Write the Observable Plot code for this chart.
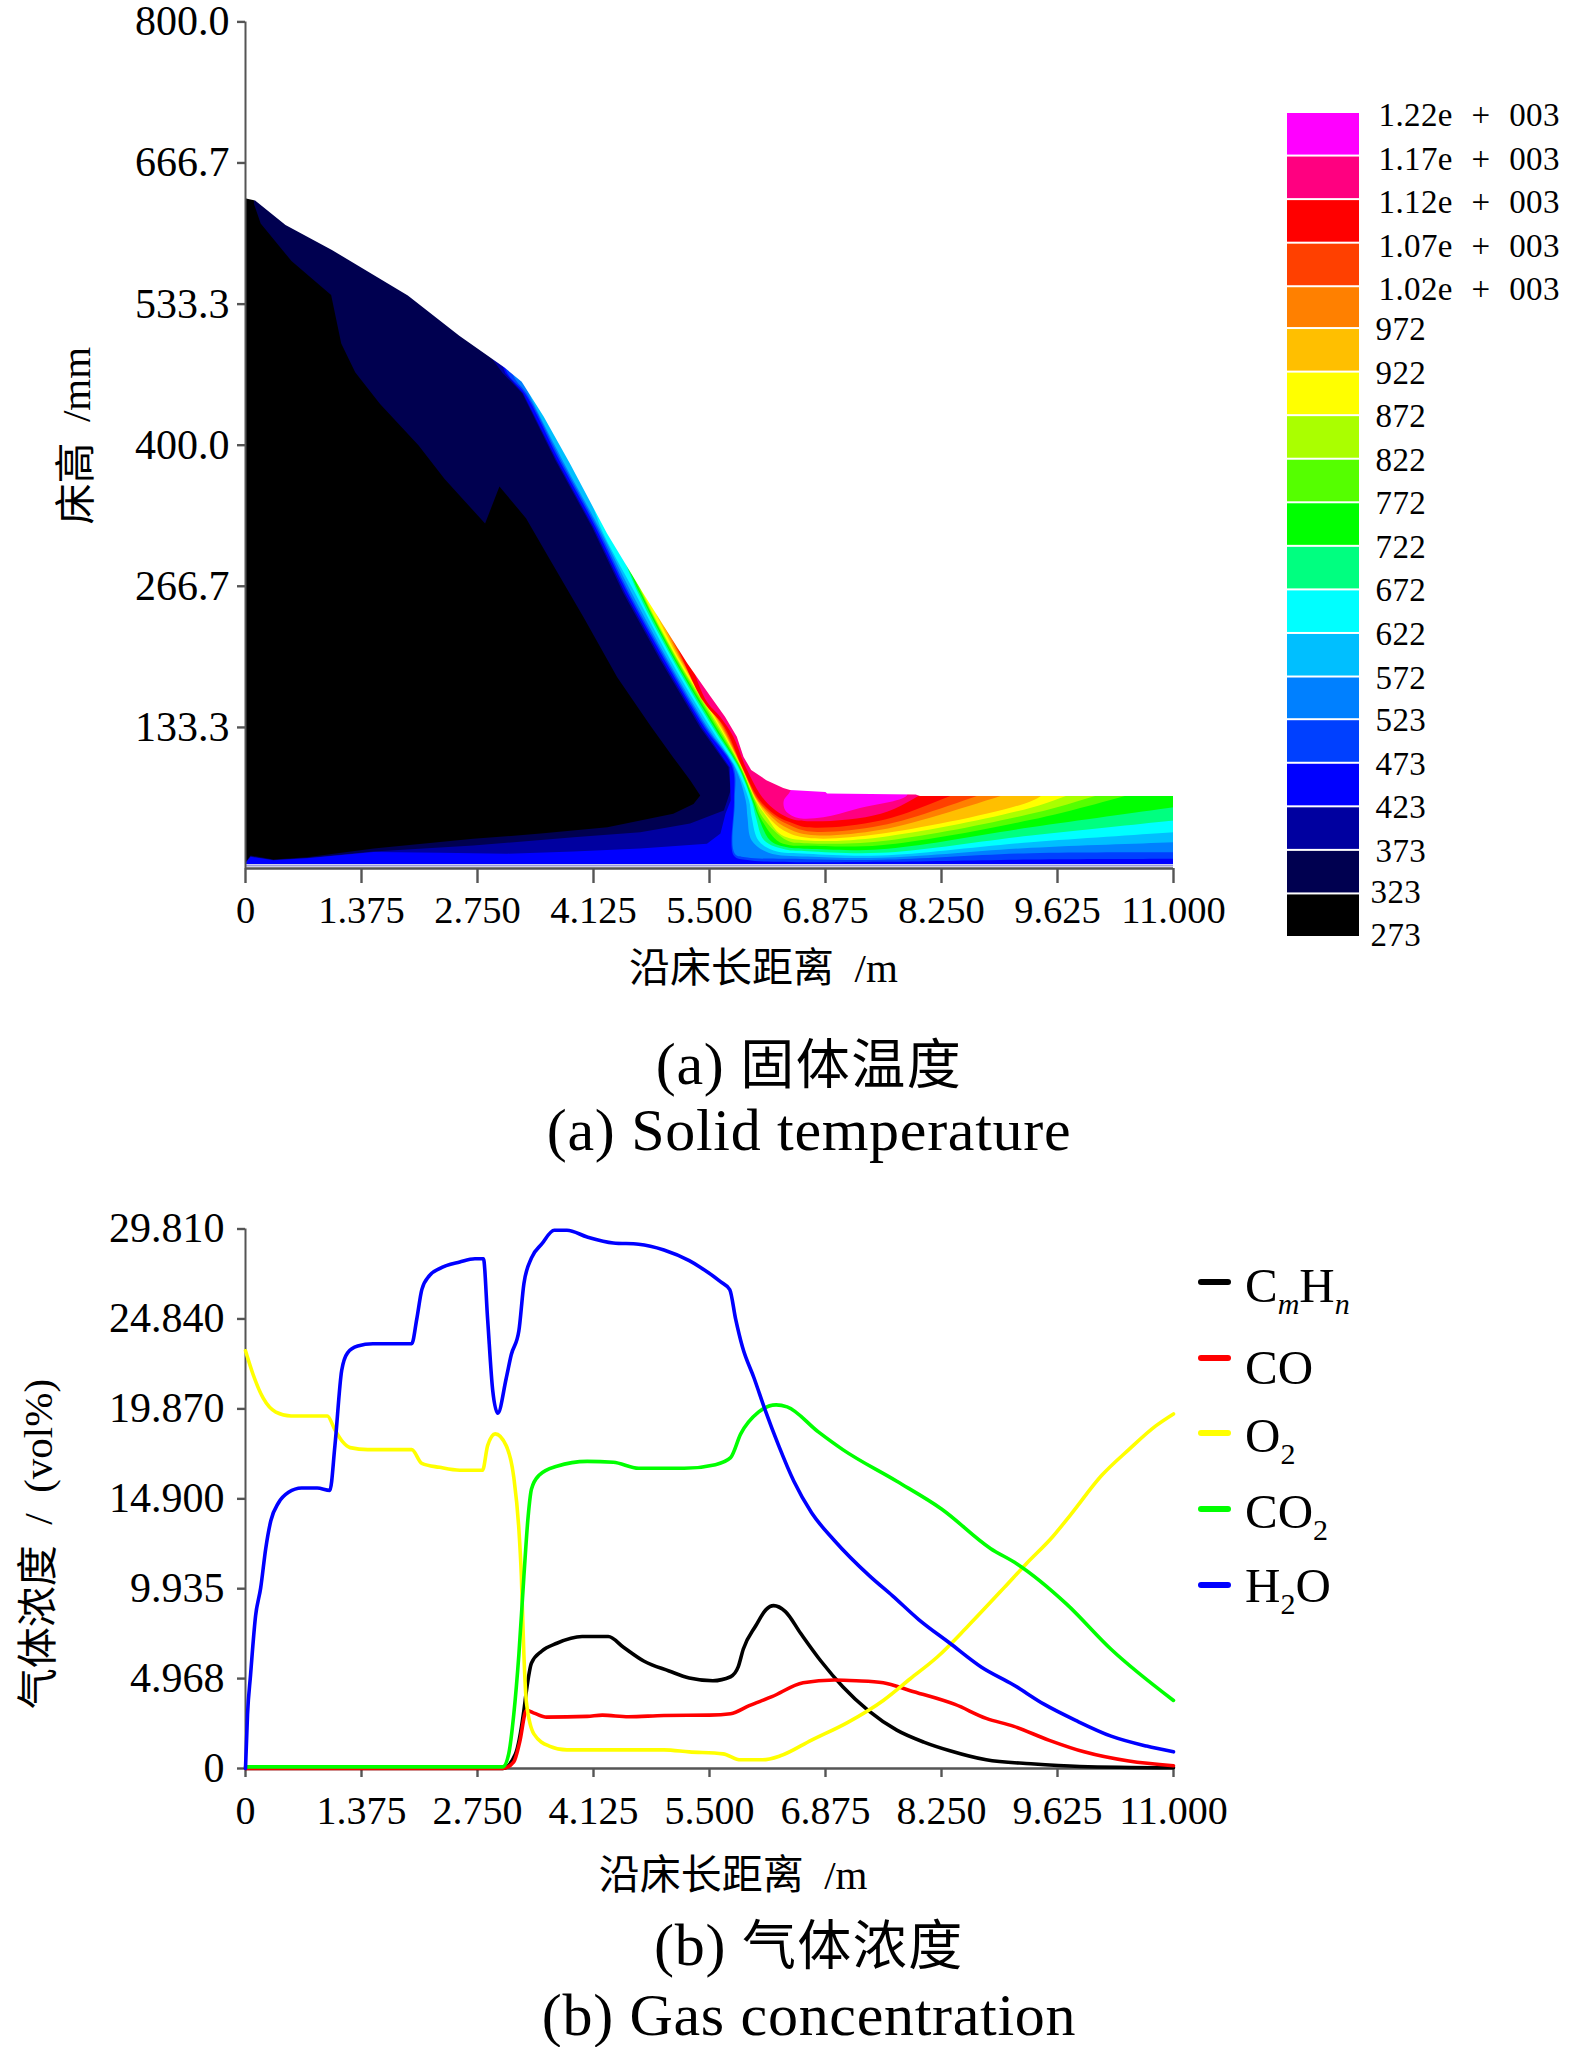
<!DOCTYPE html>
<html><head><meta charset="utf-8">
<script src="https://cdn.jsdelivr.net/npm/d3@7"></script>
<script src="https://cdn.jsdelivr.net/npm/@observablehq/plot@0.6"></script>
<style>
html,body{margin:0;padding:0;background:#fff;overflow:hidden}
body{position:relative;width:1575px;height:2047px;font-family:"Liberation Serif","Noto Sans CJK SC",serif;color:#000}
#top,#bar,#bottom{position:absolute}
#top{left:0;top:0}#bar{left:1260px;top:90px}#bottom{left:0;top:1190px}
.cap{position:absolute;left:0;width:1618px;text-align:center;font-size:60px;line-height:70px;white-space:pre;letter-spacing:.7px}
.cap b{font-weight:400;font-size:54px;letter-spacing:1.5px;font-family:"Noto Sans CJK SC"}
.lg{position:absolute;left:1198px;font-size:49px;line-height:60px;height:60px;white-space:nowrap}
.lg i.sw{position:absolute;left:0;top:27px;width:33px;height:6px;border-radius:3px}
.lg span{position:absolute;left:47px}
.lg sub{font-size:30px;line-height:0;vertical-align:-12px}
</style></head><body>
<div id="top"></div><div id="bar"></div><div id="bottom"></div>
<script>
const font='"Liberation Serif","Noto Sans CJK SC",serif';
// axes
const xTicks=[0,1.375,2.75,4.125,5.5,6.875,8.25,9.625,11];
const xTickLabels=["0","1.375","2.750","4.125","5.500","6.875","8.250","9.625","11.000"];
const heightTicks=[133.3,266.7,400,533.3,666.7,800];
const heightTickLabels=["133.3","266.7","400.0","533.3","666.7","800.0"];
const gasTicks=[0,4.968,9.935,14.9,19.87,24.84,29.81];
const gasTickLabels=["0","4.968","9.935","14.900","19.870","24.840","29.810"];
// solid temperature: bed surface [m, mm]
const surface=[[0,633],[0.12,630.7],[0.48,607.7],[1.03,584],[1.93,541],[2.54,503],[3.08,472.6],[3.28,459.6],[3.54,426.6],[3.85,382.5],[4.29,316.3],[4.72,259.6],[5.24,193.6],[5.51,163],[5.69,143],[5.83,124],[5.91,105],[6.0,92.6],[6.18,83],[6.38,75.5],[6.46,73.7],[6.88,71.8],[6.9,70.5],[7.95,69.5],[8,68],[11,68]];
// lower edge of each temperature band [m, mm]
const iso273=[[0,800],[0,0],[11,0]];
const iso323=[[0.10,640],[0.10,628],[0.18,609.6],[0.545,574],[1.015,542],[1.135,496],[1.30,469],[1.595,439],[2.05,400],[2.36,368],[2.84,326],[3.01,361],[3.325,331],[3.615,291],[4.007,237.5],[4.406,180.8],[4.8,135],[5.07,105],[5.275,83],[5.39,69],[5.31,61],[5.07,51.7],[4.29,39],[3.50,33],[2.70,28],[1.52,18.9],[0.73,10.7],[0.33,8.5],[0.06,12.3],[0,6],[0,3],[11,1]];
const iso373=[[2.5,512],[2.9,484],[3.05,468],[3.28,449],[3.675,385.6],[4.11,322.3],[4.48,260],[4.92,196.6],[5.39,133.3],[5.725,95.7],[5.75,73.7],[5.67,54.8],[5.27,42.5],[4.68,34.3],[3.89,29.6],[2.70,21.7],[1.52,16],[0.73,10],[0.33,8],[0.06,11.5],[0,5.5],[0,3],[11,1]];
const iso423=[[2.95,495],[3.08,468],[3.29,449],[3.69,385.6],[4.125,322.3],[4.50,260],[4.94,196.6],[5.41,133.3],[5.74,95.7],[5.75,64],[5.69,52],[5.63,33],[5.47,23.4],[4.68,18.9],[3.89,16],[3.10,14],[2.31,15],[1.52,15.5],[0.73,9.8],[0.33,7.8],[0.06,11],[0,5.2],[0,3],[11,1]];
const iso473=[[3.0,490],[3.12,466],[3.31,449],[3.72,385.6],[4.15,322.3],[4.53,260],[4.97,196.6],[5.44,133.3],[5.77,95.7],[5.79,64],[5.79,12],[5.95,8],[6.66,6],[7.53,6.3],[9.31,8.5],[11,9.2]];
const iso523=[[3.1,480],[3.2,462],[3.33,449],[3.74,385.6],[4.17,322.3],[4.55,260],[4.99,196.6],[5.46,133.3],[5.785,95.7],[5.80,64],[5.80,14],[5.95,10.5],[6.66,8.8],[7.53,8.2],[9.31,14.5],[11,15.4]];
const iso572=[[3.24,475],[3.36,449],[3.76,385.6],[4.19,322.3],[4.58,260],[5.01,196.6],[5.48,133.3],[5.80,95.7],[5.93,64],[5.95,48.5],[6.0,26.5],[6.2,15],[6.66,11.3],[7.53,10.1],[9.31,19.6],[11,24.9]];
const iso622=[[4.05,360],[4.21,322.3],[4.62,260],[5.04,196.6],[5.51,133.3],[5.81,95.7],[5.97,64],[6.0,48.5],[6.08,26.5],[6.26,17],[6.66,13.9],[7.53,12.3],[9.31,24.9],[11,34.3]];
const iso672=[[4.36,318],[4.655,260],[5.07,196.6],[5.54,133.3],[5.84,95.7],[6.0,64],[6.05,48.5],[6.15,26.5],[6.4,18],[6.66,16.4],[7.53,14.8],[9.31,31.2],[11,45.4]];
const iso722=[[4.42,305],[4.675,260],[5.09,196.6],[5.56,133.3],[5.85,95.7],[6.01,64],[6.08,48.5],[6.22,26.5],[6.42,20],[6.66,18.6],[7.53,18.2],[9.31,39],[11,57.9]];
const iso772=[[4.48,298],[4.69,260],[5.105,196.6],[5.58,133.3],[5.86,95.7],[6.025,64],[6.10,48.5],[6.3,26.5],[6.45,22],[6.66,21.5],[7.53,22],[9.31,46],[10.73,75]];
const iso822=[[4.55,290],[4.70,260],[5.12,196.6],[5.60,133.3],[5.87,95.7],[6.04,64],[6.13,48.5],[6.42,26.5],[6.66,23.9],[7.53,25.8],[9.31,51.7],[10.34,75]];
const iso872=[[4.6,282],[4.71,260],[5.13,196.6],[5.62,133.3],[5.875,95.7],[6.05,64],[6.18,48.5],[6.35,32],[6.66,26.5],[7.53,29.6],[9.31,57.4],[9.93,75]];
const iso922=[[4.68,272],[5.15,196.6],[5.635,133.3],[5.88,95.7],[6.06,64],[6.2,48.5],[6.38,36],[6.66,29],[7.53,32.8],[9.31,63.6],[9.54,75]];
const iso972=[[4.78,260],[5.165,196.6],[5.65,133.3],[5.885,95.7],[6.07,64],[6.24,48.5],[6.38,40],[6.66,32.1],[7.53,36.6],[9.22,75]];
const iso1020=[[4.9,245],[5.18,196.6],[5.665,133.3],[5.888,95.7],[6.08,64],[6.28,48.5],[6.42,42],[6.66,35.3],[7.53,40.6],[8.91,75]];
const iso1070=[[5.04,225],[5.42,158.8],[5.68,133.3],[5.89,95.7],[6.1,64],[6.32,48.5],[6.45,44],[6.66,39],[7.53,45.4],[8.56,75]];
const iso1120=[[5.28,195],[5.46,158.8],[5.63,143],[5.78,125],[5.93,95.7],[6.16,64],[6.42,48.5],[6.66,44.7],[7.53,51.7],[8.12,75]];
const iso1170=[[6.46,85],[6.46,73.7],[6.38,64],[6.40,54.8],[6.54,48],[6.85,48.5],[7.25,56.5],[7.84,69],[7.84,75]];
const isotherms=[iso273,iso323,iso373,iso423,iso473,iso523,iso572,iso622,iso672,iso722,iso772,iso822,iso872,iso922,iso972,iso1020,iso1070,iso1120,iso1170];
const bandColors=["#000000","#000050","#0000a0","#0000ff","#0040ff","#0080ff","#00bfff","#00ffff","#00ff80","#00ff00","#55ff00","#aaff00","#ffff00","#ffbf00","#ff8000","#ff4000","#ff0000","#ff0080","#ff00ff"];
const barLevels=[273,323,373,423,473,523,572,622,672,722,772,822,872,922,972,1020,1070,1120,1170,1220];
const barLabels=["273","323","373","423","473","523","572","622","672","722","772","822","872","922","972","1.02e + 003","1.07e + 003","1.12e + 003","1.17e + 003","1.22e + 003"];
// gas concentration [m, vol%]
const cmhn=[[0,0],[3.05,0],[3.2,0.8],[3.3,3.2],[3.33,4.3],[3.39,5.83],[3.51,6.48],[3.69,6.92],[3.99,7.29],[4.30,7.29],[4.48,6.7],[4.72,5.94],[5.02,5.39],[5.26,5.0],[5.54,4.85],[5.75,5.07],[5.84,5.61],[5.90,6.59],[6.05,7.9],[6.17,8.78],[6.26,9.0],[6.4,8.67],[6.58,7.47],[6.82,5.94],[7.08,4.52],[7.38,3.21],[7.72,2.12],[8.04,1.46],[8.35,0.98],[8.78,0.48],[9.31,0.26],[9.89,0.11],[11,0.04]];
const co=[[0,0],[3.05,0],[3.18,0.37],[3.25,1.46],[3.33,3.21],[3.42,3.06],[3.57,2.84],[4.05,2.88],[4.23,2.95],[4.54,2.86],[4.96,2.93],[5.5,2.95],[5.75,3.03],[5.97,3.47],[6.24,3.97],[6.61,4.74],[6.98,4.89],[7.24,4.85],[7.56,4.74],[7.88,4.3],[8.41,3.54],[8.78,2.77],[9.10,2.34],[9.52,1.57],[9.94,0.92],[10.47,0.41],[11,0.15]];
const o2=[[0,23.08],[0.09,21.77],[0.21,20.46],[0.36,19.69],[0.54,19.48],[0.97,19.48],[1.06,18.71],[1.15,18.06],[1.24,17.73],[1.45,17.62],[1.97,17.62],[2.09,16.86],[2.30,16.64],[2.54,16.48],[2.81,16.48],[2.87,17.84],[2.96,18.49],[3.09,17.84],[3.18,16.09],[3.24,13.25],[3.27,10.63],[3.30,6.27],[3.33,3.65],[3.42,1.9],[3.60,1.24],[3.81,1.03],[4.96,1.03],[5.26,0.92],[5.66,0.81],[5.87,0.48],[6.13,0.48],[6.34,0.70],[6.71,1.57],[7.14,2.55],[7.56,3.76],[7.88,4.96],[8.20,6.16],[8.57,7.9],[8.99,9.98],[9.25,11.29],[9.57,12.82],[9.78,14.02],[10.15,16.2],[10.47,17.62],[10.79,18.93],[11,19.59]];
const co2=[[0,0.09],[3.05,0.09],[3.12,0.81],[3.18,2.99],[3.24,6.27],[3.30,10.63],[3.35,13.91],[3.39,15.44],[3.48,16.2],[3.69,16.7],[4.05,16.97],[4.36,16.92],[4.66,16.59],[5.20,16.59],[5.57,16.79],[5.75,17.18],[5.87,18.49],[6.08,19.69],[6.29,20.09],[6.42,19.98],[6.79,18.6],[7.08,17.62],[7.72,15.87],[8.25,14.34],[8.83,12.16],[9.15,11.29],[9.73,9.1],[10.26,6.59],[11,3.76]];
const h2o=[[0,0],[0.024,2.99],[0.06,5.17],[0.12,8.45],[0.18,9.98],[0.24,12.16],[0.30,13.69],[0.39,14.67],[0.51,15.26],[0.665,15.5],[0.85,15.5],[1.0,15.37],[1.06,17.84],[1.14,21.99],[1.21,22.97],[1.33,23.34],[1.51,23.47],[1.97,23.47],[2.03,24.83],[2.09,26.46],[2.18,27.23],[2.30,27.62],[2.54,27.99],[2.72,28.17],[2.82,28.17],[2.87,24.83],[2.93,20.9],[2.99,19.63],[3.09,21.55],[3.15,22.86],[3.24,24.17],[3.30,26.79],[3.39,28.21],[3.51,28.97],[3.66,29.74],[3.81,29.74],[4.05,29.37],[4.36,29.04],[4.66,28.97],[4.96,28.65],[5.26,28.06],[5.39,27.7],[5.63,26.9],[5.74,26.46],[5.81,24.83],[5.89,23.3],[6.03,21.55],[6.16,19.8],[6.32,17.84],[6.50,15.87],[6.71,14.13],[6.98,12.6],[7.40,10.63],[7.67,9.54],[7.98,8.23],[8.35,6.92],[8.72,5.61],[9.10,4.63],[9.47,3.54],[9.84,2.66],[10.26,1.79],[10.68,1.24],[11,0.92]];
const gasSeries=[[cmhn,"#000000"],[co,"#ff0000"],[o2,"#ffff00"],[co2,"#00ff00"],[h2o,"#0000ff"]];
const legendItems=[["C<sub><i>m</i></sub>H<sub><i>n</i></sub>","#000000",1252,4],["CO","#ff0000",1328,10],["O<sub>2</sub>","#ffff00",1403,3],["CO<sub>2</sub>","#00ff00",1479,3],["H<sub>2</sub>O","#0000ff",1555,1]];

const axisStyle={stroke:"#555",strokeWidth:2.4,fill:"#000",label:null};
const fmt=(t,l)=>d=>l[t.indexOf(d)];
const skyCorner=[10.9,800];
// the closing leg of each band leaves its last segment in line, outside the bed where the masks hide it
const closed=pts=>{const [a,b]=pts.slice(-2);return [...pts,[b[0]+(b[0]-a[0])*.4,b[1]+(b[1]-a[1])*.4],skyCorner];};

const topPlot=Plot.plot({
  width:1575,height:1000,marginLeft:245,marginRight:402,marginTop:21.4,marginBottom:132,
  style:{fontFamily:font,background:"transparent",overflow:"visible"},
  x:{domain:[0,11]},y:{domain:[0,800]},
  marks:[
    ...isotherms.map((pts,i)=>Plot.line(i>=4?closed(pts):[...pts,skyCorner],{x:d=>d[0],y:d=>d[1],fill:bandColors[i],stroke:"none",curve:i>=4?"catmull-rom":"linear"})),
    Plot.areaY(surface,{x:d=>d[0],y1:d=>d[1],y2:()=>800,fill:"#fff",curve:"linear"}),
    Plot.areaY([11,12.2],{x:d=>d,y1:()=>-12,y2:()=>800,fill:"#fff"}),
    Plot.areaY([0,11],{x:d=>d,y1:()=>-12,y2:()=>3.8,fill:"#fff"}),
    Plot.ruleY([2.9],{x1:0,x2:11,stroke:"#9a9ad8",strokeWidth:2}),
    Plot.ruleY([0],{x1:0,x2:11,stroke:"#555",strokeWidth:2.4}),
    Plot.ruleX([0],{y1:0,y2:800,stroke:"#555",strokeWidth:2}),
    Plot.axisX({...axisStyle,fontSize:38.5,ticks:xTicks,tickFormat:fmt(xTicks,xTickLabels),tickSize:15,tickPadding:12}),
    Plot.axisY({...axisStyle,fontSize:42,ticks:heightTicks,tickFormat:fmt(heightTicks,heightTickLabels),tickSize:8,tickPadding:8}),
    Plot.text(["沿床长距离\u00a0\u00a0/m"],{x:()=>6.14,frameAnchor:"bottom",lineAnchor:"middle",dy:100,fontSize:41}),
    Plot.text(["床高\u00a0\u00a0/mm"],{y:()=>409,frameAnchor:"left",textAnchor:"middle",lineAnchor:"middle",dx:-168.5,rotate:-90,fontSize:41})
  ]
});
document.getElementById("top").append(topPlot);

const bands=bandColors.map((c,i)=>({lo:barLevels[i],hi:barLevels[i+1],c}));
const barText=barLevels.map((v,i)=>({v,t:barLabels[i]}));
const barPlot=Plot.plot({
  width:315,height:880,marginLeft:27,marginRight:216,marginTop:22,marginBottom:33,
  style:{fontFamily:font,background:"transparent",overflow:"visible",wordSpacing:"10px",letterSpacing:".4px"},
  x:{domain:[0,1],axis:null},y:{domain:[273,1220],axis:null},
  marks:[
    Plot.rect(bands,{x1:()=>0,x2:()=>1,y1:"lo",y2:"hi",fill:d=>d.c,insetTop:1,insetBottom:1}),
    Plot.text(barText.filter(d=>d.v>=1020),{x:()=>1,y:"v",text:"t",textAnchor:"start",dx:19,dy:3,fontSize:33}),
    Plot.text(barText.filter(d=>d.v>=373&&d.v<1020),{x:()=>1,y:"v",text:"t",textAnchor:"start",dx:16,dy:1,fontSize:33}),
    Plot.text(barText.filter(d=>d.v<373),{x:()=>1,y:"v",text:"t",textAnchor:"start",dx:11,dy:-2,fontSize:33})
  ]
});
document.getElementById("bar").append(barPlot);

const bottomPlot=Plot.plot({
  width:1575,height:710,marginLeft:245,marginRight:402,marginTop:38.5,marginBottom:132,
  style:{fontFamily:font,background:"transparent",overflow:"visible"},
  x:{domain:[0,11]},y:{domain:[0,29.81]},
  marks:[
    Plot.ruleY([0],{x1:0,x2:11,stroke:"#555",strokeWidth:2.4}),
    Plot.ruleX([0],{y1:0,y2:29.81,stroke:"#555",strokeWidth:2}),
    Plot.axisX({...axisStyle,fontSize:40,ticks:xTicks,tickFormat:fmt(xTicks,xTickLabels),tickSize:9,tickPadding:18}),
    Plot.axisY({...axisStyle,fontSize:42,ticks:gasTicks,tickFormat:fmt(gasTicks,gasTickLabels),tickSize:8,tickPadding:13}),
    ...gasSeries.map(([pts,c])=>Plot.line(pts,{x:d=>d[0],y:d=>d[1],stroke:c,strokeWidth:3.6,curve:"monotone-x"})),
    Plot.text(["沿床长距离\u00a0\u00a0/m"],{x:()=>5.78,frameAnchor:"bottom",lineAnchor:"middle",dy:107,fontSize:41}),
    Plot.text(["气体浓度\u00a0\u00a0/\u00a0\u00a0(vol%)"],{y:()=>12.4,frameAnchor:"left",textAnchor:"middle",lineAnchor:"middle",dx:-207,rotate:-90,fontSize:41})
  ]
});
document.getElementById("bottom").append(bottomPlot);

for(const [html,c,top,textDy] of legendItems){
  const d=document.createElement("div");d.className="lg";d.style.top=top+"px";
  d.innerHTML=`<i class="sw" style="background:${c}"></i><span style="top:${textDy}px">${html}</span>`;
  document.body.append(d);
}
for(const [html,top] of [["(a) <b>固体温度</b>",1026],["(a) Solid temperature",1095],["(b) <b>气体浓度</b>",1907],["(b) Gas concentration",1980]]){
  const d=document.createElement("div");d.className="cap";d.style.top=top+"px";d.innerHTML=html;
  document.body.append(d);
}
</script>
</body></html>
